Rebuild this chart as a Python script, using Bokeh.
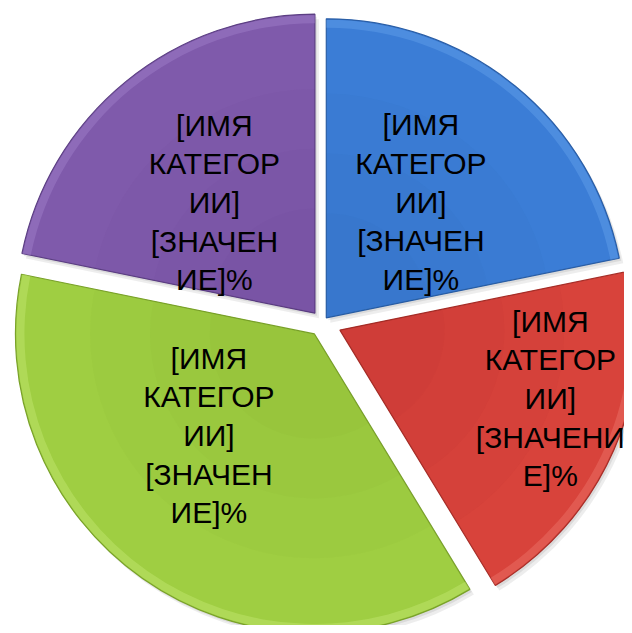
import numpy as np
from bokeh.plotting import figure
from bokeh.models import Range1d, ColumnDataSource
from bokeh.core.properties import value
from bokeh.embed import file_html
from bokeh.resources import INLINE

# ---- data ----
categories = ["Категория 1", "Категория 2", "Категория 3", "Категория 4"]
values = [21.8, 19.5, 36.9, 21.8]
labels = [
    "[ИМЯ\nКАТЕГОР\nИИ]\n[ЗНАЧЕН\nИЕ]%",
    "[ИМЯ\nКАТЕГОР\nИИ]\n[ЗНАЧЕНИ\nЕ]%",
    "[ИМЯ\nКАТЕГОР\nИИ]\n[ЗНАЧЕН\nИЕ]%",
    "[ИМЯ\nКАТЕГОР\nИИ]\n[ЗНАЧЕН\nИЕ]%",
]

# ---- styles ----
main_colors = ["#3b7dd6", "#d8433b", "#9fce42", "#7f5aab"]
light_colors = ["#6aa6ee", "#f07a70", "#c8ec78", "#a585cf"]
dark_colors = ["#2a5ea6", "#a62e28", "#7aa22a", "#5c3f83"]

CX, CY = 322.0, -322.0
R = 299.0
EXPLODE = [6, 19, 14, 12]
LABEL_R = [0.5, 0.74, 0.49, 0.5]
LABEL_DA = [0.0, 5.6, -11.0, 3.0]
START = 90.0

vals = np.array(values, dtype=float)
fr = vals / vals.sum() * 360.0
cum = np.concatenate([[0], np.cumsum(fr)])
# clockwise from top
a_end = START - cum[:-1]
a_start = START - cum[1:]
bis = (a_start + a_end) / 2.0

cx = CX + np.array(EXPLODE) * np.cos(np.radians(bis))
cy = CY + np.array(EXPLODE) * np.sin(np.radians(bis))

src = ColumnDataSource(dict(
    cat=categories, x=cx, y=cy, start=np.radians(a_start), end=np.radians(a_end),
    main=main_colors, light=light_colors, dark=dark_colors,
    sx1=cx + 4, sy1=cy - 5, sx2=cx + 2, sy2=cy - 2.5,
))

p = figure(width=624, height=625, x_range=Range1d(0, 624), y_range=Range1d(-625, 0),
           output_backend="svg", toolbar_location=None,
           x_axis_location=None, y_axis_location=None, min_border=0)
p.grid.visible = False
p.outline_line_color = None
p.background_fill_color = "white"
p.border_fill_color = "white"

# shadows
p.wedge(x="sx1", y="sy1", radius=R, start_angle="start", end_angle="end",
        fill_color="#000000", fill_alpha=0.07, line_color=None, source=src)
p.wedge(x="sx2", y="sy2", radius=R, start_angle="start", end_angle="end",
        fill_color="#000000", fill_alpha=0.08, line_color=None, source=src)

# base
p.wedge(x="x", y="y", radius=R, start_angle="start", end_angle="end",
        fill_color="main", line_color="dark", line_width=1.2, source=src)
# rim bevel
p.annular_wedge(x="x", y="y", inner_radius=R - 9, outer_radius=R - 1,
                start_angle="start", end_angle="end",
                fill_color="light", fill_alpha=0.4, line_color=None, source=src)
# central shading
for frac in [0.75, 0.55, 0.35]:
    p.wedge(x="x", y="y", radius=R * frac, start_angle="start", end_angle="end",
            fill_color="dark", fill_alpha=0.05, line_color=None, source=src)

# labels
lx = cx + np.array(LABEL_R) * R * np.cos(np.radians(bis + np.array(LABEL_DA)))
ly = cy + np.array(LABEL_R) * R * np.sin(np.radians(bis + np.array(LABEL_DA)))
lsrc = ColumnDataSource(dict(x=lx, y=ly, text=labels))
p.text(x="x", y="y", text="text", source=lsrc, text_font=value("Liberation Sans"),
       text_font_size="30px", text_align="center", text_baseline="middle",
       text_color="black", text_line_height=1.17)

open("out.html", "w").write(file_html(p, INLINE))
